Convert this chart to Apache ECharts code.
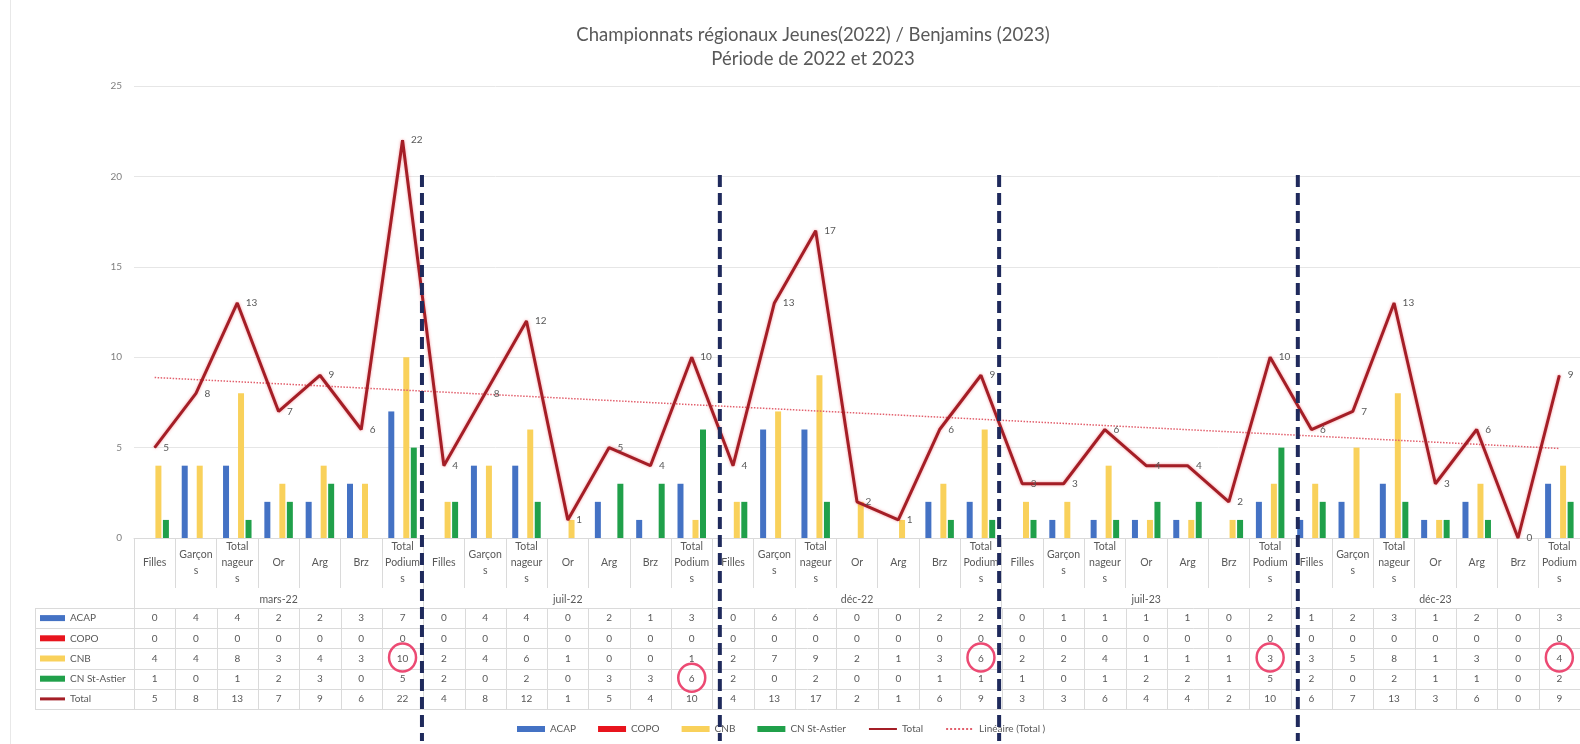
<!DOCTYPE html>
<html>
<head>
<meta charset="utf-8">
<script src="https://cdn.jsdelivr.net/npm/echarts@6/dist/echarts.min.js"></script>
<style>
  html, body { margin: 0; padding: 0; background: #ffffff; }
  #chart { width: 1580px; height: 744px; }
</style>
</head>
<body>
<div id="chart"></div>
<script>
// Competition periods and, for each, the seven measures shown
const periods = ['mars-22', 'juil-22', 'déc-22', 'juil-23', 'déc-23'];
const measures = ['Filles', 'Garçons', 'Total nageurs', 'Or', 'Arg', 'Brz', 'Total Podiums'];

// Club values, one block of seven per period
const acap       = [0,4,4,2,2,3,7,  0,4,4,0,2,1,3,  0,6,6,0,0,2,2,  0,1,1,1,1,0,2,  1,2,3,1,2,0,3];
const copo       = [0,0,0,0,0,0,0,  0,0,0,0,0,0,0,  0,0,0,0,0,0,0,  0,0,0,0,0,0,0,  0,0,0,0,0,0,0];
const cnb        = [4,4,8,3,4,3,10, 2,4,6,1,0,0,1,  2,7,9,2,1,3,6,  2,2,4,1,1,1,3,  3,5,8,1,3,0,4];
const cnStAstier = [1,0,1,2,3,0,5,  2,0,2,0,3,3,6,  2,0,2,0,0,1,1,  1,0,1,2,2,1,5,  2,0,2,1,1,0,2];
const total      = [5,8,13,7,9,6,22, 4,8,12,1,5,4,10, 4,13,17,2,1,6,9, 3,3,6,4,4,2,10, 6,7,13,3,6,0,9];

// Value axis
const yMin = 0, yMax = 25, yStep = 5;

// Highlighted cells of the data table: [period, measure, row]
const circledCells = [[0, 6, 2], [1, 6, 3], [2, 6, 2], [3, 6, 2], [4, 6, 2]];
// Dashed separators, in category units from the first category centre
const separators = [6.47, 13.68, 20.44, 27.67];

const colors = {
  acap: '#4472C4', copo: '#E8141D', cnb: '#F9D15B', cn: '#20A04A',
  total: '#A41E26', trend: '#E2606D', text: '#595959', rule: '#DADADA'
};
const FONT = 'Lato, "Open Sans", sans-serif';

// Category keys are unique per period; the label shows only the measure
const categories = [];
periods.forEach(p => measures.forEach(m => categories.push(m + '|' + p)));
const wrapped = {
  'Filles': 'Filles', 'Garçons': 'Garçon\ns', 'Total nageurs': 'Total\nnageur\ns',
  'Or': 'Or', 'Arg': 'Arg', 'Brz': 'Brz', 'Total Podiums': 'Total\nPodium\ns'
};

// Least-squares linear trend of the totals
function linearTrend(values) {
  const n = values.length;
  const mx = (n - 1) / 2;
  const my = values.reduce((a, b) => a + b, 0) / n;
  let sxy = 0, sxx = 0;
  values.forEach((v, i) => { sxy += (i - mx) * (v - my); sxx += (i - mx) * (i - mx); });
  const slope = sxy / sxx;
  return values.map((v, i) => +(my + slope * (i - mx)).toFixed(4));
}
const trend = linearTrend(total);

const chart = echarts.init(document.getElementById('chart'), null, { renderer: 'canvas' });

const gridLeft = 134, gridTop = 86, gridWidth = 1451, gridHeight = 452;
const hiddenMarker = { color: 'rgba(0,0,0,0)', borderWidth: 0 };

const option = {
  animation: false,
  backgroundColor: '#ffffff',
  textStyle: { fontFamily: FONT },
  title: {
    text: 'Championnats régionaux Jeunes(2022) / Benjamins (2023)\nPériode de 2022 et 2023',
    left: 808, top: 18, textAlign: 'center',
    textStyle: { fontFamily: FONT, fontSize: 18.5, fontWeight: 'normal', color: colors.text, lineHeight: 24 }
  },
  legend: {
    left: 512, top: 719,
    itemWidth: 28, itemHeight: 6, itemGap: 22,
    textStyle: { fontFamily: FONT, fontSize: 10, color: colors.text },
    data: [
      { name: 'ACAP', icon: 'rect' }, { name: 'COPO', icon: 'rect' },
      { name: 'CNB', icon: 'rect' }, { name: 'CN St-Astier', icon: 'rect' },
      { name: 'Total', itemStyle: hiddenMarker },
      { name: 'Linéaire (Total )', itemStyle: hiddenMarker }
    ]
  },
  grid: { left: gridLeft, top: gridTop, width: gridWidth, height: gridHeight, containLabel: false },
  xAxis: [
    {
      type: 'category', data: categories, boundaryGap: true,
      axisLine: { show: true, lineStyle: { color: colors.rule, width: 1 } },
      axisTick: { show: true, length: 50, lineStyle: { color: colors.rule } },
      axisLabel: {
        interval: 0, margin: 25, verticalAlign: 'middle', lineHeight: 16,
        fontFamily: FONT, fontSize: 10.5, color: colors.text,
        formatter: v => wrapped[v.split('|')[0]]
      },
      splitLine: { show: false }
    },
    {
      type: 'category', data: periods, boundaryGap: true, position: 'bottom',
      axisLine: { show: false },
      axisTick: { show: true, length: 71, lineStyle: { color: colors.rule } },
      axisLabel: { interval: 0, margin: 62, verticalAlign: 'middle', fontFamily: FONT, fontSize: 10.5, color: colors.text },
      splitLine: { show: false }
    }
  ],
  yAxis: {
    type: 'value', min: yMin, max: yMax, interval: yStep,
    axisLine: { show: false }, axisTick: { show: false },
    axisLabel: { margin: 12, fontFamily: FONT, fontSize: 10, color: '#7F7F7F' },
    splitLine: { lineStyle: { color: '#E6E6E6', width: 1 } }
  },
  series: [
    { name: 'ACAP', type: 'bar', data: acap, barWidth: 6, barGap: '25%', itemStyle: { color: colors.acap }, z: 2 },
    { name: 'COPO', type: 'bar', data: copo, barWidth: 6, barGap: '25%', itemStyle: { color: colors.copo }, z: 2 },
    { name: 'CNB', type: 'bar', data: cnb, barWidth: 6, barGap: '25%', itemStyle: { color: colors.cnb }, z: 2 },
    { name: 'CN St-Astier', type: 'bar', data: cnStAstier, barWidth: 6, barGap: '25%', itemStyle: { color: colors.cn }, z: 2 },
    {
      name: 'Linéaire (Total )', type: 'line', data: trend, symbol: 'none', silent: true, z: 3,
      lineStyle: { color: colors.trend, width: 1.5, type: 'dotted' }, itemStyle: { color: colors.trend }
    },
    {
      name: 'Total', type: 'line', data: total, symbol: 'circle', symbolSize: 1, showSymbol: true, z: 4,
      lineStyle: { color: colors.total, width: 3, shadowBlur: 3, shadowColor: 'rgba(235,70,80,0.55)' },
      itemStyle: { color: colors.total },
      label: { show: true, position: 'right', distance: 8, fontFamily: FONT, fontSize: 10, color: colors.text }
    }
  ]
};

chart.setOption(option);

// Data table, highlight rings and separators drawn from the axis positions
const cx = i => chart.convertToPixel({ xAxisIndex: 0 }, i);
const step = cx(1) - cx(0);
const firstBoundary = cx(0) - step / 2;
const lastBoundary = cx(categories.length - 1) + step / 2;

const rows = [
  { name: 'ACAP', values: acap, color: colors.acap, key: 6 },
  { name: 'COPO', values: copo, color: colors.copo, key: 6 },
  { name: 'CNB', values: cnb, color: colors.cnb, key: 6 },
  { name: 'CN St-Astier', values: cnStAstier, color: colors.cn, key: 6 },
  { name: 'Total', values: total, color: colors.total, key: 3 }
];
const tableTop = 608, rowH = 20.2, tableLeft = 35;
const tableBottom = tableTop + rows.length * rowH;

const g = [];
// chart-area border on the left
g.push({ type: 'line', silent: true, shape: { x1: 10.5, y1: 0, x2: 10.5, y2: 744 }, style: { stroke: '#E8E8E8', lineWidth: 1 } });

for (let k = 0; k <= rows.length; k++) {
  const y = Math.round(tableTop + k * rowH) + 0.5;
  g.push({ type: 'line', silent: true, shape: { x1: tableLeft, y1: y, x2: lastBoundary, y2: y }, style: { stroke: colors.rule, lineWidth: 1 } });
}
g.push({ type: 'line', silent: true, shape: { x1: tableLeft + 0.5, y1: tableTop, x2: tableLeft + 0.5, y2: tableBottom }, style: { stroke: colors.rule, lineWidth: 1 } });
for (let j = 0; j <= categories.length; j++) {
  const x = Math.round(firstBoundary + j * step) + 0.5;
  g.push({ type: 'line', silent: true, shape: { x1: x, y1: tableTop, x2: x, y2: tableBottom }, style: { stroke: colors.rule, lineWidth: 1 } });
}
rows.forEach((row, r) => {
  const yc = tableTop + (r + 0.5) * rowH;
  g.push({ type: 'rect', silent: true, shape: { x: 40, y: yc - row.key / 2, width: 25, height: row.key }, style: { fill: row.color } });
  g.push({ type: 'text', silent: true, x: 70, y: yc, style: { text: row.name, fill: colors.text, font: '10px ' + FONT, verticalAlign: 'middle', align: 'left' } });
  row.values.forEach((v, i) => {
    g.push({ type: 'text', silent: true, x: cx(i), y: yc, style: { text: String(v), fill: colors.text, font: '10px ' + FONT, verticalAlign: 'middle', align: 'center' } });
  });
});

circledCells.forEach(([p, m, r]) => {
  const i = p * measures.length + m;
  g.push({
    type: 'ellipse', silent: true, z: 100,
    shape: { cx: cx(i), cy: tableTop + (r + 0.5) * rowH - 1, rx: 13.5, ry: 14 },
    style: { fill: 'none', stroke: '#EC4A73', lineWidth: 2.5 }
  });
});

separators.forEach(pos => {
  const x = cx(0) + pos * step;
  g.push({
    type: 'line', silent: true, z: 100,
    shape: { x1: x, y1: 175, x2: x, y2: 741 },
    style: { stroke: '#1F2A5C', lineWidth: 4, lineDash: [12, 6] }
  });
});

chart.setOption({ graphic: g });
</script>
</body>
</html>
